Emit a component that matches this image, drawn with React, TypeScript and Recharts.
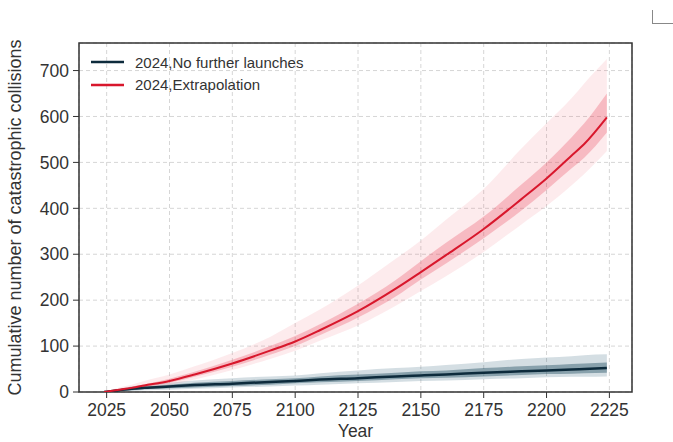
import React from 'react';
import {
  ComposedChart,
  Line,
  Area,
  XAxis,
  YAxis,
  CartesianGrid,
  ReferenceArea,
  Legend,
  Label,
} from 'recharts';

// values
const years = [2024, 2030, 2035, 2040, 2050, 2060, 2075, 2090, 2100, 2110, 2125, 2140, 2150, 2160, 2175, 2190, 2200, 2210, 2215, 2224];

const extrapMean = [0, 5, 9, 14, 24, 38, 62, 90, 110, 135, 176, 225, 261, 298, 355, 420, 465, 515, 540, 598];
const extrapInnerLow = [0, 3, 7, 11, 20, 33, 55, 81, 100, 124, 162, 208, 245, 280, 335, 395, 440, 487, 510, 565];
const extrapInnerHigh = [0, 7, 12, 17, 29, 44, 70, 100, 122, 148, 192, 244, 285, 325, 382, 452, 500, 555, 585, 650];
const extrapOuterLow = [0, 2, 5, 9, 15, 27, 48, 72, 90, 112, 145, 188, 220, 252, 305, 365, 405, 450, 475, 525];
const extrapOuterHigh = [0, 10, 16, 24, 38, 56, 85, 120, 150, 180, 232, 290, 330, 375, 442, 530, 585, 640, 672, 725];

const noLaunchMean = [0, 4, 7, 9, 12, 15, 18, 22, 24, 27, 30, 34, 36, 38, 42, 45, 47, 49, 50, 52];
const noLaunchInnerLow = [0, 2, 4, 6, 8, 10, 13, 16, 19, 21, 24, 28, 30, 31, 34, 37, 39, 40, 41, 42];
const noLaunchInnerHigh = [0, 6, 10, 12, 16, 20, 24, 28, 30, 34, 38, 42, 45, 47, 52, 56, 58, 61, 62, 64];
const noLaunchOuterLow = [0, 1, 2, 4, 5, 7, 10, 12, 14, 16, 19, 22, 24, 25, 28, 30, 32, 33, 33, 34];
const noLaunchOuterHigh = [0, 7, 12, 15, 20, 25, 30, 34, 36, 41, 47, 52, 55, 59, 65, 72, 75, 78, 80, 82];

const seriesNames = ['2024,No further launches', '2024,Extrapolation'];
const seriesColors = ['#0d2b3c', '#d8172c'];

const xTicks = [2025, 2050, 2075, 2100, 2125, 2150, 2175, 2200, 2225];
const yTicks = [0, 100, 200, 300, 400, 500, 600, 700];
const xMinorTicks = Array.from({ length: 45 }, (_, i) => 2015 + i * 5);
const yMinorTicks = Array.from({ length: 38 }, (_, i) => i * 20);

const X_DOMAIN: [number, number] = [2014, 2234];
const Y_DOMAIN: [number, number] = [0, 760];

const data = years.map((year, i) => ({
  year,
  extrap: extrapMean[i],
  extrapInner: [extrapInnerLow[i], extrapInnerHigh[i]],
  extrapOuter: [extrapOuterLow[i], extrapOuterHigh[i]],
  noLaunch: noLaunchMean[i],
  noLaunchInner: [noLaunchInnerLow[i], noLaunchInnerHigh[i]],
  noLaunchOuter: [noLaunchOuterLow[i], noLaunchOuterHigh[i]],
}));

const FONT = '"Liberation Sans", Arial, sans-serif';
const TEXT = '#333333';

const LegendBox = () => (
  <div style={{ fontFamily: FONT, fontSize: 15, color: TEXT, textAlign: 'left' }}>
    {seriesNames.map((name, i) => (
      <div key={name} style={{ display: 'flex', alignItems: 'center', height: 22.5, whiteSpace: 'nowrap' }}>
        <svg width={33} height={6} style={{ marginRight: 11 }}>
          <line x1={0} y1={3} x2={33} y2={3} stroke={seriesColors[i]} strokeWidth={2.5} />
        </svg>
        <span>{name}</span>
      </div>
    ))}
  </div>
);

const App: React.FC = () => {
  return (
    <div style={{ position: 'absolute', left: 0, top: 0, width: 673, height: 442, background: '#fff' }}>
      <ComposedChart
        width={673}
        height={442}
        data={data}
        margin={{ top: 43, right: 41, bottom: 0, left: 0 }}
      >
        <CartesianGrid stroke="#d6d6d6" strokeDasharray="4 3" xAxisId={0} yAxisId={0} />
        {/* minor ticks: thin axes right against the plot, no labels */}
        <XAxis
          xAxisId="minor"
          dataKey="year"
          type="number"
          domain={X_DOMAIN}
          ticks={xMinorTicks}
          interval={0}
          allowDataOverflow
          height={1}
          tick={false}
          tickSize={3}
          axisLine={false}
          tickLine={{ stroke: TEXT }}
        />
        <XAxis
          xAxisId={0}
          dataKey="year"
          type="number"
          domain={X_DOMAIN}
          ticks={xTicks}
          interval={0}
          allowDataOverflow
          height={49}
          tickSize={6}
          tickMargin={6}
          axisLine={false}
          tickLine={{ stroke: TEXT }}
          tick={{ fill: TEXT, fontSize: 17.5, fontFamily: FONT }}
        >
          <Label value="Year" position="insideBottom" offset={4} style={{ fill: TEXT, fontSize: 17.5, fontFamily: FONT }} />
        </XAxis>
        <YAxis
          yAxisId="minor"
          type="number"
          domain={Y_DOMAIN}
          ticks={yMinorTicks}
          interval={0}
          allowDataOverflow
          width={1}
          tick={false}
          tickSize={3}
          axisLine={false}
          tickLine={{ stroke: TEXT }}
        />
        <YAxis
          yAxisId={0}
          type="number"
          domain={Y_DOMAIN}
          ticks={yTicks}
          interval={0}
          allowDataOverflow
          width={78}
          tickSize={6}
          tickMargin={4}
          axisLine={false}
          tickLine={{ stroke: TEXT }}
          tick={{ fill: TEXT, fontSize: 17.5, fontFamily: FONT }}
        >
          <Label
            value="Cumulative number of catastrophic collisions"
            angle={-90}
            position="insideLeft"
            offset={14}
            style={{ textAnchor: 'middle', fill: TEXT, fontSize: 18, fontFamily: FONT }}
          />
        </YAxis>

        <Area xAxisId={0} yAxisId={0} type="monotone" dataKey="noLaunchOuter" stroke="none" fill="#3b6a80" fillOpacity={0.22} isAnimationActive={false} />
        <Area xAxisId={0} yAxisId={0} type="monotone" dataKey="noLaunchInner" stroke="none" fill="#2c5669" fillOpacity={0.45} isAnimationActive={false} />
        <Area xAxisId={0} yAxisId={0} type="monotone" dataKey="extrapOuter" stroke="none" fill="#ee5a6c" fillOpacity={0.12} isAnimationActive={false} />
        <Area xAxisId={0} yAxisId={0} type="monotone" dataKey="extrapInner" stroke="none" fill="#ea3d52" fillOpacity={0.28} isAnimationActive={false} />
        <Line xAxisId={0} yAxisId={0} type="monotone" dataKey="noLaunch" stroke={seriesColors[0]} strokeWidth={2.5} dot={false} isAnimationActive={false} />
        <Line xAxisId={0} yAxisId={0} type="monotone" dataKey="extrap" stroke={seriesColors[1]} strokeWidth={2} dot={false} isAnimationActive={false} />

        <ReferenceArea
          xAxisId={0}
          yAxisId={0}
          x1={X_DOMAIN[0]}
          x2={X_DOMAIN[1]}
          y1={Y_DOMAIN[0]}
          y2={Y_DOMAIN[1]}
          fill="none"
          stroke={TEXT}
          strokeWidth={1.5}
        />
        <Legend
          verticalAlign="middle"
          align="center"
          layout="vertical"
          content={<LegendBox />}
          wrapperStyle={{ position: 'absolute', left: 91, top: 51, width: 'auto', height: 'auto' }}
        />
      </ComposedChart>
      <div
        style={{
          position: 'absolute',
          left: 652,
          top: 10,
          width: 21,
          height: 13,
          borderLeft: '1.5px solid #888',
          borderBottom: '1.5px solid #888',
        }}
      />
    </div>
  );
};

export default App;
